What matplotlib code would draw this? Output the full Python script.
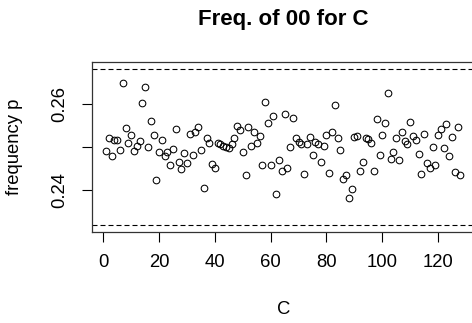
import matplotlib
matplotlib.use("Agg")
import matplotlib.pyplot as plt

plt.rcParams['font.family'] = ['Liberation Sans', 'DejaVu Sans']

# frequency p of "00" per position C
freq_p = [
    0.2490, 0.2522, 0.2479, 0.2517, 0.2516, 0.2494, 0.2649, 0.2545, 0.2509, 0.2528,
    0.2491, 0.2502, 0.2513, 0.2603, 0.2641, 0.2501, 0.2561, 0.2528, 0.2423, 0.2488,
    0.2517, 0.2480, 0.2488, 0.2458, 0.2495, 0.2542, 0.2466, 0.2448, 0.2487, 0.2463,
    0.2531, 0.2482, 0.2534, 0.2547, 0.2494, 0.2404, 0.2522, 0.2509, 0.2461, 0.2450,
    0.2510, 0.2508, 0.2502, 0.2500, 0.2498, 0.2508, 0.2520, 0.2548, 0.2539, 0.2488,
    0.2435, 0.2547, 0.2502, 0.2535, 0.2509, 0.2525, 0.2457, 0.2606, 0.2557, 0.2457,
    0.2573, 0.2391, 0.2470, 0.2445, 0.2578, 0.2450, 0.2501, 0.2567, 0.2520, 0.2512,
    0.2506, 0.2437, 0.2506, 0.2523, 0.2481, 0.2512, 0.2507, 0.2466, 0.2502, 0.2528,
    0.2440, 0.2535, 0.2597, 0.2520, 0.2494, 0.2425, 0.2435, 0.2382, 0.2403, 0.2523,
    0.2525, 0.2445, 0.2466, 0.2521, 0.2518, 0.2510, 0.2445, 0.2565, 0.2482, 0.2528,
    0.2555, 0.2625, 0.2473, 0.2488, 0.2520, 0.2469, 0.2535, 0.2513, 0.2508, 0.2559,
    0.2525, 0.2516, 0.2484, 0.2437, 0.2530, 0.2463, 0.2451, 0.2500, 0.2459, 0.2528,
    0.2542, 0.2498, 0.2553, 0.2479, 0.2524, 0.2441, 0.2547, 0.2435,
]
positions = list(range(1, len(freq_p) + 1))

# control limits (dashed lines)
lower_limit = 0.2317
upper_limit = 0.2683

x_ticks = [0, 20, 40, 60, 80, 100, 120]
y_ticks = [0.24, 0.25, 0.26]
y_tick_labels = ['0.24', '', '0.26']

fig = plt.figure(figsize=(4.72, 3.23), dpi=100)
ax = fig.add_axes([91.9 / 472, 91.3 / 323, 382.7 / 472, 169.4 / 323])

ax.plot(positions, freq_p, linestyle='none', marker='o', markersize=4.8,
        markerfacecolor='none', markeredgecolor='black', markeredgewidth=0.75)
ax.axhline(upper_limit, color='black', linewidth=0.8, dashes=(4.5, 2.7))
ax.axhline(lower_limit, color='black', linewidth=0.8, dashes=(4.5, 2.7))

# R style 4% padding
xr = positions[-1] - positions[0]
ax.set_xlim(positions[0] - 0.04 * xr, positions[-1] + 0.04 * xr)
yr = upper_limit - lower_limit
ax.set_ylim(lower_limit - 0.04 * yr, upper_limit + 0.04 * yr)

ax.set_xticks(x_ticks)
ax.set_yticks(y_ticks)
ax.set_yticklabels(y_tick_labels)
ax.tick_params(axis='both', direction='out', length=7.2, width=0.8,
               labelsize=13.3, colors='black')
ax.tick_params(axis='x', pad=8.5)
ax.tick_params(axis='y', pad=9.5)
plt.setp(ax.get_yticklabels(), rotation=90, va='center')

for s in ax.spines.values():
    s.set_linewidth(0.9)
    s.set_color('#333333')

ax.set_title('Freq. of 00 for C', fontsize=16, fontweight='bold', pad=26.9)
ax.set_xlabel('C', fontsize=13.3)
ax.set_ylabel('frequency p', fontsize=13.3)
ax.xaxis.set_label_coords(0.5, (13 - 91.3) / 169.4)
ax.xaxis.label.set_va('center')
ax.yaxis.set_label_coords((15 - 91.9) / 382.7, 0.5)
ax.yaxis.label.set_va('center')
ax.yaxis.label.set_ha('center')

fig.savefig('out.png', dpi=100)
